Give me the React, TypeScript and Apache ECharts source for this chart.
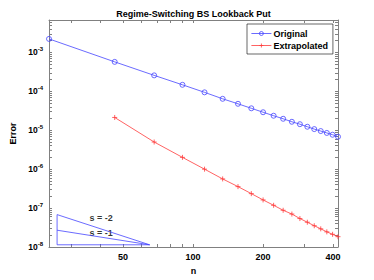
import React, { useEffect, useRef } from "react";
import * as echarts from "echarts";

const nOriginal = [24, 46, 68, 90, 112, 134, 156, 178, 200, 222, 244, 266, 288, 310, 332, 354, 376, 398, 420];
const errOriginal = [2.22e-3, 5.71e-4, 2.57e-4, 1.47e-4, 9.42e-5, 6.42e-5, 4.78e-5, 3.66e-5, 2.9e-5, 2.36e-5, 1.97e-5, 1.65e-5, 1.43e-5, 1.23e-5, 1.07e-5, 9.53e-6, 8.53e-6, 7.67e-6, 6.81e-6];
const nExtrap = [46, 68, 90, 112, 134, 156, 178, 200, 222, 244, 266, 288, 310, 332, 354, 376, 398, 420];
const errExtrap = [2.13e-5, 4.98e-6, 2.01e-6, 1.0e-6, 5.61e-7, 3.56e-7, 2.35e-7, 1.62e-7, 1.18e-7, 8.78e-8, 7.02e-8, 5.38e-8, 4.33e-8, 3.52e-8, 2.93e-8, 2.45e-8, 2.12e-8, 1.84e-8];

// slope triangle vertices (n, error)
const triN = [26, 26, 65, 26];
const triErr = [6.8e-8, 1.14e-8, 1.14e-8, 6.8e-8];
const slope1N = [26, 65];
const slope1Err = [2.7e-8, 1.14e-8];
const annoText = ["s = -2", "s = -1"];
const annoN = [35.8, 35.8];
const annoErr = [5.4e-8, 2.3e-8];

const xLabelTicks = [50, 100, 200, 400];
const xAllTicks = [30, 40, 50, 60, 70, 80, 90, 100, 200, 300, 400];
const yLabelTicks = [1e-8, 1e-7, 1e-6, 1e-5, 1e-4, 1e-3];
const mantissas = [1, 2, 3, 4, 5, 6, 7, 8, 9];

const X_MIN = 24;
const X_MAX = 420;
const Y_MIN = 1e-8;
const Y_MAX = 6.8e-3;

const FONT = "Liberation Sans, Arial, Helvetica, sans-serif";
const BLUE = "#4545ff";
const RED = "#ff3b3b";
const CIRCLE = "path://M10,5A5,5,0,1,1,0,5A5,5,0,1,1,10,5Z";
const PLUS = "path://M0,5L10,5M5,0L5,10";

export default function App() {
  const ref = useRef<HTMLDivElement>(null);
  useEffect(() => {
    if (!ref.current) return;
    const chart = echarts.init(ref.current, undefined, { renderer: "svg" });
    const yAllTicks: number[] = [];
    yLabelTicks.forEach((p) => mantissas.forEach((m) => {
      const v = p * m;
      if (v <= Y_MAX) yAllTicks.push(Number(v.toPrecision(3)));
    }));
    const axisColor = "#808080";
    const common = {
      type: "log" as const,
      logBase: 10,
      axisLine: { show: true, onZero: false, lineStyle: { color: axisColor, width: 1 } },
      splitLine: { show: false },
      minorTick: { show: false },
    };
    const supFmt = (v: number) => {
      const e = Math.round(Math.log10(v));
      return `{b|10}{s|${e}}`;
    };
    const rich = {
      b: { fontSize: 8.5, fontWeight: "bold", fontFamily: FONT, color: "#000" },
      s: { fontSize: 6, fontWeight: "bold", fontFamily: FONT, color: "#000", verticalAlign: "bottom", padding: [0, 0, 6, 0] },
    };
    chart.setOption({
      animation: false,
      textStyle: { fontFamily: FONT },
      title: {
        text: "Regime-Switching BS Lookback Put",
        left: 193.5,
        top: 9,
        padding: 0,
        textAlign: "center",
        textStyle: { fontSize: 9, fontWeight: "bold", color: "#000", fontFamily: FONT },
      },
      grid: { left: 49, top: 20, width: 289, height: 228, containLabel: false },
      legend: {
        data: ["Original", "Extrapolated"],
        orient: "vertical",
        left: 247,
        top: 24,
        padding: [4, 5, 3, 4],
        itemGap: 1,
        itemWidth: 20,
        itemHeight: 5,
        lineStyle: { width: 0.8 },
        itemStyle: { borderWidth: 0.8 },
        backgroundColor: "#fff",
        borderColor: "#000",
        borderWidth: 0.6,
        borderRadius: 0,
        textStyle: { fontSize: 9, fontWeight: "bold", color: "#000", fontFamily: FONT, padding: [0, 0, 0, -3], lineHeight: 11 },
      },
      xAxis: [
        {
          ...common,
          position: "bottom",
          min: X_MIN,
          max: X_MAX,
          name: "n",
          nameLocation: "middle",
          nameGap: 19,
          nameTextStyle: { fontSize: 9, fontWeight: "bold", color: "#000", fontFamily: FONT },
          axisTick: { show: true, inside: true, length: 3, lineStyle: { color: axisColor }, customValues: xAllTicks },
          axisLabel: { show: true, customValues: xLabelTicks, fontSize: 9, fontWeight: "bold", color: "#000", margin: 5, fontFamily: FONT, formatter: (v: number) => String(Math.round(v)) },
        },
        {
          ...common,
          position: "top",
          min: X_MIN,
          max: X_MAX,
          axisTick: { show: true, inside: true, length: 3, lineStyle: { color: axisColor }, customValues: xAllTicks },
          axisLabel: { show: false },
        },
      ],
      yAxis: [
        {
          ...common,
          position: "left",
          min: Y_MIN,
          max: Y_MAX,
          name: "Error",
          nameLocation: "middle",
          nameGap: 26,
          nameRotate: 90,
          nameTextStyle: { fontSize: 9, fontWeight: "bold", color: "#000", fontFamily: FONT },
          axisTick: { show: true, inside: true, length: 3, lineStyle: { color: axisColor }, customValues: yAllTicks },
          axisLabel: { show: true, customValues: yLabelTicks, margin: 6, formatter: supFmt, rich },
        },
        {
          ...common,
          position: "right",
          min: Y_MIN,
          max: Y_MAX,
          axisTick: { show: true, inside: true, length: 3, lineStyle: { color: axisColor }, customValues: yAllTicks },
          axisLabel: { show: false },
        },
      ],
      series: [
        {
          name: "Original",
          type: "line",
          data: nOriginal.map((n, i) => [n, errOriginal[i]]),
          symbol: CIRCLE,
          symbolSize: 5,
          color: BLUE,
          itemStyle: { color: "rgba(255,255,255,0)", borderColor: BLUE, borderWidth: 0.8 },
          lineStyle: { color: BLUE, width: 0.8 },
        },
        {
          name: "Extrapolated",
          type: "line",
          data: nExtrap.map((n, i) => [n, errExtrap[i]]),
          symbol: PLUS,
          symbolSize: 5,
          color: RED,
          itemStyle: { color: RED, borderColor: RED, borderWidth: 0.8 },
          lineStyle: { color: RED, width: 0.8 },
        },
        {
          name: "tri",
          type: "line",
          data: triN.map((n, i) => [n, triErr[i]]),
          symbol: "none",
          lineStyle: { color: BLUE, width: 0.8 },
          silent: true,
        },
        {
          name: "slope1",
          type: "line",
          data: slope1N.map((n, i) => [n, slope1Err[i]]),
          symbol: "none",
          lineStyle: { color: BLUE, width: 0.8 },
          silent: true,
        },
        {
          name: "anno",
          type: "scatter",
          symbolSize: 0,
          data: annoN.map((n, i) => ({ value: [n, annoErr[i]], label: { formatter: annoText[i] } })),
          label: { show: true, position: "right", distance: 0, fontSize: 9, fontWeight: "bold", color: "#000", fontFamily: FONT },
          silent: true,
        },
      ],
    });
    return () => chart.dispose();
  }, []);
  return <div ref={ref} style={{ position: "absolute", left: 0, top: 0, width: 374, height: 280, background: "#fff" }} />;
}
